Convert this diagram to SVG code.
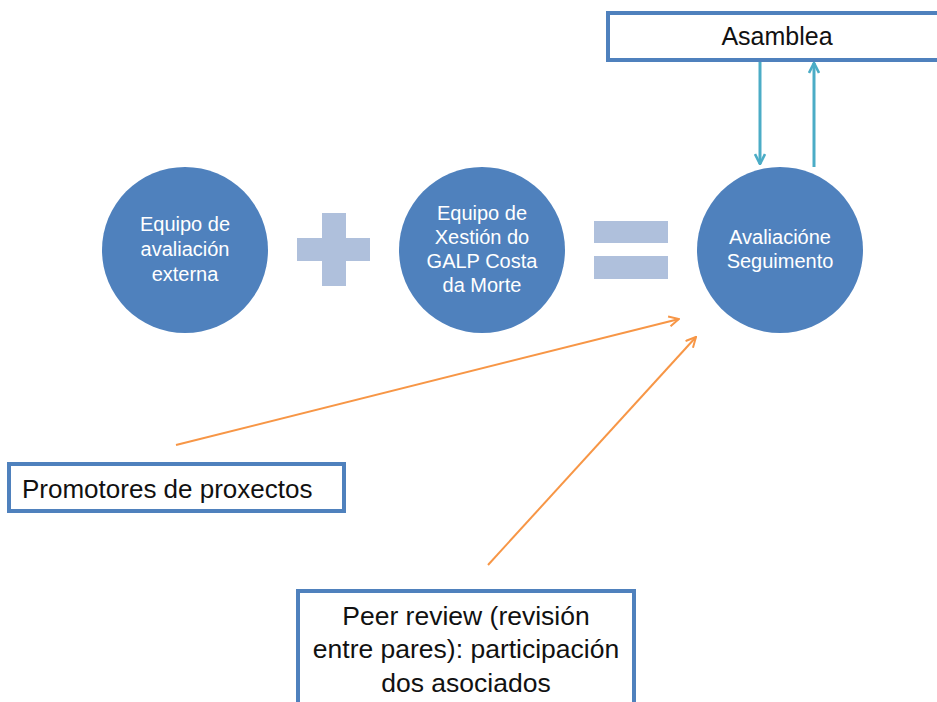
<svg xmlns="http://www.w3.org/2000/svg" width="937" height="702" viewBox="0 0 937 702">
<defs>
<style>
.circ{fill:#4f81bd}
.ctxt{font-family:"Liberation Sans",Arial,sans-serif;font-size:20px;fill:#ffffff;text-anchor:middle}
.box{fill:#ffffff;stroke:#4f81bd;stroke-width:4}
.btxt{font-family:"Liberation Sans",Arial,sans-serif;font-size:25px;fill:#111111}
.big{font-size:26px}
.peer{font-size:26.5px;text-anchor:middle}
.sym{fill:#afc0dc}
.teal{stroke:#4bacc6;stroke-width:3;fill:none}
.orange{stroke:#f79646;stroke-width:2;fill:none}
</style>
<marker id="ht" viewBox="0 0 12 12" refX="11" refY="6" markerWidth="12" markerHeight="12" markerUnits="userSpaceOnUse" orient="auto">
<path d="M1,1 L11,6 L1,11" fill="none" stroke="#4bacc6" stroke-width="2.6"/>
</marker>
<marker id="ho" viewBox="0 0 12 12" refX="11" refY="6" markerWidth="12" markerHeight="12" markerUnits="userSpaceOnUse" orient="auto">
<path d="M1,1 L11,6 L1,11" fill="none" stroke="#f79646" stroke-width="2"/>
</marker>
</defs>
<rect width="937" height="702" fill="#ffffff"/>

<g id="asamblea">
<rect class="box" x="608" y="13" width="340" height="47"/>
<text class="btxt" x="777" y="45" text-anchor="middle">Asamblea</text>
</g>

<g id="equipo-externa">
<circle class="circ" cx="185" cy="250" r="83"/>
<text class="ctxt" x="185" y="231">Equipo de</text>
<text class="ctxt" x="185" y="256">avaliación</text>
<text class="ctxt" x="185" y="281">externa</text>
</g>

<g id="plus">
<rect class="sym" x="322" y="213" width="24" height="73"/>
<rect class="sym" x="297" y="238" width="73" height="23"/>
</g>

<g id="equipo-xestion">
<circle class="circ" cx="482" cy="250" r="83"/>
<text class="ctxt" x="482" y="220">Equipo de</text>
<text class="ctxt" x="482" y="244">Xestión do</text>
<text class="ctxt" x="482" y="268">GALP Costa</text>
<text class="ctxt" x="482" y="292">da Morte</text>
</g>

<g id="equals">
<rect class="sym" x="594" y="221" width="74" height="22"/>
<rect class="sym" x="594" y="256" width="74" height="23"/>
</g>

<g id="avaliacion">
<circle class="circ" cx="780" cy="250" r="83"/>
<text class="ctxt" x="780" y="244">Avaliacióne</text>
<text class="ctxt" x="780" y="268">Seguimento</text>
</g>

<g id="promotores">
<rect class="box" x="9" y="464" width="335" height="47"/>
<text class="btxt big" x="22" y="498">Promotores de proxectos</text>
</g>

<g id="peer-review">
<rect class="box" x="298" y="591" width="336" height="130"/>
<text class="btxt peer" x="466" y="625">Peer review (revisión</text>
<text class="btxt peer" x="466" y="658">entre pares): participación</text>
<text class="btxt peer" x="466" y="692">dos asociados</text>
</g>

<g id="connectors">
<line class="teal" x1="760" y1="62" x2="760" y2="164" marker-end="url(#ht)"/>
<line class="teal" x1="814" y1="167" x2="814" y2="63" marker-end="url(#ht)"/>
<line class="orange" x1="176" y1="445" x2="679" y2="319" marker-end="url(#ho)"/>
<line class="orange" x1="488" y1="565" x2="696" y2="337" marker-end="url(#ho)"/>
</g>
</svg>
